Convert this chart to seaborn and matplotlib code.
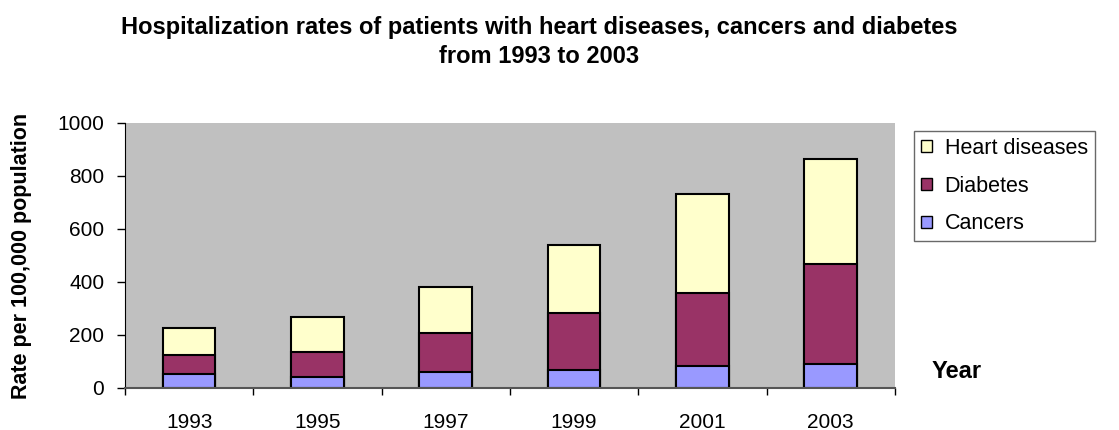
import numpy as np
import pandas as pd
import matplotlib
matplotlib.use("Agg")
import matplotlib.pyplot as plt
import seaborn as sns
from matplotlib.patches import Patch

# values
years = ["1993", "1995", "1997", "1999", "2001", "2003"]
cancers = [53, 40, 59, 68, 82, 89]
diabetes = [70, 97, 147, 215, 278, 380]
heart = [105, 132, 174, 255, 373, 395]

col_heart = "#FFFFCC"
col_diab = "#993366"
col_canc = "#9999FF"

sns.set_style("white")
plt.rcParams["font.family"] = ["Liberation Sans", "DejaVu Sans"]
plt.rcParams["text.color"] = "black"
plt.rcParams["xtick.color"] = "black"
plt.rcParams["ytick.color"] = "black"
plt.rcParams["axes.labelcolor"] = "black"

df = pd.DataFrame({"year": years, "Cancers": cancers,
                   "Diabetes": diabetes, "Heart diseases": heart})
df["cum_diab"] = df["Cancers"] + df["Diabetes"]
df["cum_total"] = df["cum_diab"] + df["Heart diseases"]

fig = plt.figure(figsize=(11.19, 4.30), dpi=100)
ax = fig.add_axes([0.1117, 0.0977, 0.688, 0.6163])
ax.set_facecolor("#C0C0C0")

# stacked bars drawn as overlapping cumulative totals, tallest first
for col, c in [("cum_total", col_heart), ("cum_diab", col_diab), ("Cancers", col_canc)]:
    sns.barplot(data=df, x="year", y=col, color=c, width=0.41,
                edgecolor="black", linewidth=1.5, saturation=1, ax=ax)

ax.set_ylim(0, 1000)
ax.set_xlim(-0.5, 5.5)
ax.set_yticks(np.arange(0, 1001, 200))
ax.tick_params(axis="y", labelsize=15, length=6, width=1, direction="out",
               left=True, pad=9)
ax.set_xticks(np.arange(-0.5, 6, 1), minor=True)
ax.tick_params(axis="x", which="major", length=0, labelsize=15, pad=18)
ax.tick_params(axis="x", which="minor", length=5, width=1, direction="out", bottom=True)
ax.set_xlabel("")
ax.set_ylabel("Rate per 100,000 population", fontsize=15.5, fontweight="bold")
ax.yaxis.set_label_coords(-0.121, 0.5)

for s in ["top", "right"]:
    ax.spines[s].set_visible(False)
ax.spines["left"].set_color("black")
ax.spines["bottom"].set_color("#555555")
ax.spines["bottom"].set_linewidth(1.5)

fig.text(539 / 1119, 1 - 42 / 430, "Hospitalization rates of patients with heart diseases, cancers and diabetes\nfrom 1993 to 2003",
         ha="center", va="center", fontsize=17, fontweight="bold", linespacing=1.35)
fig.text(932 / 1119, 1 - 371 / 430, "Year", ha="left", va="center",
         fontsize=17, fontweight="bold")

handles = [Patch(facecolor=col_heart, edgecolor="black", label="Heart diseases"),
           Patch(facecolor=col_diab, edgecolor="black", label="Diabetes"),
           Patch(facecolor=col_canc, edgecolor="black", label="Cancers")]
leg = fig.legend(handles=handles, loc="upper left", bbox_to_anchor=(914 / 1119, 1 - 131 / 430),
                 fontsize=15.5, frameon=True, fancybox=False, handlelength=0.5,
                 handleheight=0.5, handletextpad=0.6, labelspacing=0.78, borderpad=0.32,
                 borderaxespad=0)
leg.get_frame().set_edgecolor("#444444")
leg.get_frame().set_linewidth(1)

fig.savefig("out.png", dpi=100)
